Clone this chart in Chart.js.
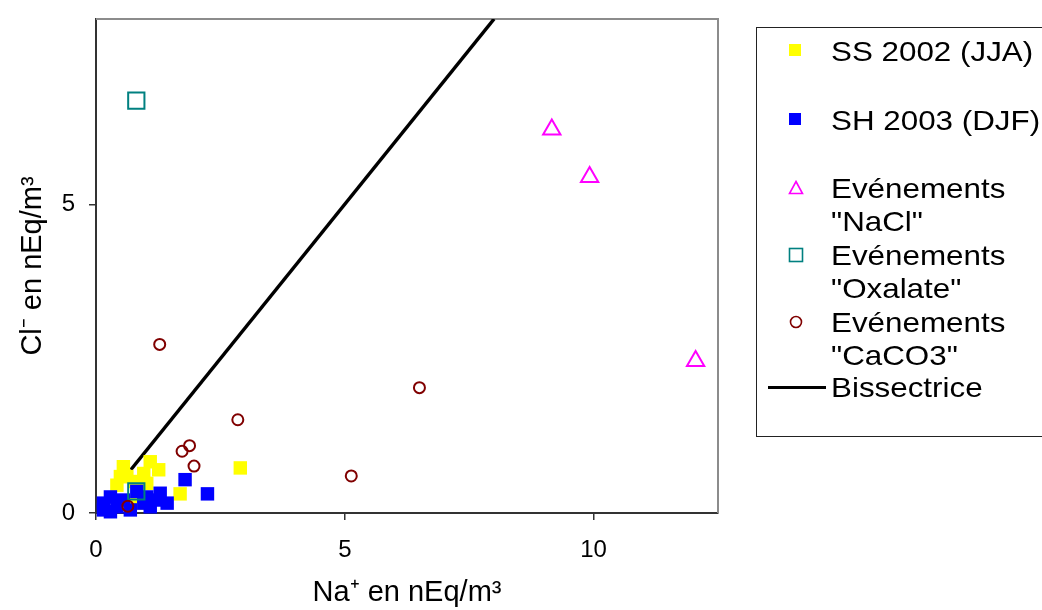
<!DOCTYPE html>
<html>
<head>
<meta charset="utf-8">
<script src="https://cdn.jsdelivr.net/npm/chart.js@4/dist/chart.umd.min.js"></script>
<style>
  body { margin: 0; background: #fff; }
  #wrap { position: relative; width: 1042px; height: 610px; overflow: hidden; font-family: "Liberation Sans", Arial, sans-serif; }
  #legend { position: absolute; left: 756px; top: 27px; width: 320px; height: 410px; border: 1.5px solid #222; box-sizing: border-box; }
  .item { position: absolute; left: 74px; font-size: 28px; line-height: 33px; color: #000; white-space: nowrap; transform: scaleX(1.12); transform-origin: left center; }
  .mark { position: absolute; }
</style>
</head>
<body>
<div id="wrap">
  <canvas id="chart" width="1042" height="610"></canvas>
  <div id="legend"></div>
</div>
<script>
// SS 2002 (JJA)
let ssX = [0.55, 0.49, 0.42, 0.62, 1.09, 1.26, 0.96, 1.02, 0.79, 2.90, 1.69, 0.82];
let ssY = [0.75, 0.59, 0.45, 0.59, 0.83, 0.70, 0.64, 0.48, 0.51, 0.73, 0.31, 0.16];
// SH 2003 (DJF)
let shX = [1.79, 2.24, 0.29, 0.15, 0.15, 0.42, 0.55, 0.82, 1.02, 1.23, 1.43, 1.09, 0.29, 0.69, 0.96, 1.29];
let shY = [0.54, 0.31, 0.26, 0.16, 0.05, 0.10, 0.21, 0.35, 0.26, 0.21, 0.16, 0.10, 0.02, 0.05, 0.16, 0.32];
// Evénements "NaCl"
let naclX = [9.16, 9.92, 12.05];
let naclY = [6.21, 5.44, 2.46];
// Evénements "Oxalate"
let oxaX = [0.81, 0.81];
let oxaY = [6.68, 0.35];
// Evénements "CaCO3"
let caX = [1.28, 2.85, 1.73, 1.88, 1.97, 0.64, 6.50, 5.13];
let caY = [2.73, 1.51, 1.00, 1.09, 0.76, 0.11, 2.03, 0.60];
// Bissectrice (y = x)
let bisX = [0.7, 8];
let bisY = [0.7, 8];

let xTicks = [0, 5, 10];
let yTicks = [0, 5];

function pts(xs, ys) {
	let out = [];
	for (let i = 0; i < xs.length; i++) out.push({x: xs[i], y: ys[i]});
	return out;
}

let frame = {
	id: "frame",
	beforeDatasetsDraw(chart) {
		let a = chart.chartArea;
		let ctx = chart.ctx;
		ctx.save();
		ctx.strokeStyle = "#8c8c8c";
		ctx.lineWidth = 2;
		ctx.beginPath();
		ctx.moveTo(a.left, a.top);
		ctx.lineTo(a.right, a.top);
		ctx.lineTo(a.right, a.bottom);
		ctx.stroke();
		ctx.restore();
	}
};

let data = {
	datasets: [
		{ label: "SS 2002 (JJA)", data: pts(ssX, ssY), pointStyle: "rect", pointRadius: 9.5,
		  backgroundColor: "#ffff00", borderColor: "#ffff00", borderWidth: 0, order: 5, clip: false },
		{ label: "SH 2003 (DJF)", data: pts(shX, shY), pointStyle: "rect", pointRadius: 9.5,
		  backgroundColor: "#0000ff", borderColor: "#0000ff", borderWidth: 0, order: 4, clip: false },
		{ label: 'Evénements "NaCl"', data: pts(naclX, naclY), pointStyle: "triangle", pointRadius: 10,
		  backgroundColor: "rgba(0,0,0,0)", borderColor: "#ff00ff", borderWidth: 2, order: 3, clip: false },
		{ label: 'Evénements "Oxalate"', data: pts(oxaX, oxaY), pointStyle: "rect", pointRadius: 11.5,
		  backgroundColor: "rgba(0,0,0,0)", borderColor: "#008080", borderWidth: 2, order: 2, clip: false },
		{ label: 'Evénements "CaCO3"', data: pts(caX, caY), pointStyle: "circle", pointRadius: 5.5,
		  backgroundColor: "rgba(0,0,0,0)", borderColor: "#800000", borderWidth: 2, order: 1, clip: false },
		{ type: "line", label: "Bissectrice", data: pts(bisX, bisY), showLine: true, pointRadius: 0,
		  borderColor: "#000", borderWidth: 3.5, fill: false, order: 6 }
	]
};

let options = {
	responsive: false,
	animation: false,
	events: [],
	layout: { padding: { top: 19, right: 324, left: 0, bottom: 0 } },
	plugins: { legend: { display: false }, tooltip: { enabled: false } },
	scales: {
		x: {
			type: "linear", min: 0, max: 12.5,
			afterFit: function (s) { s.height = 97; s.paddingLeft = 0; s.paddingRight = 0; },
			afterBuildTicks: function (s) { s.ticks = xTicks.map(v => ({value: v})); },
			ticks: { font: { size: 24, family: "Liberation Sans" }, color: "#000", padding: 16, maxRotation: 0 },
			grid: { drawOnChartArea: false, drawTicks: true, tickLength: 7, color: "#333", lineWidth: 1.5 },
			border: { display: true, color: "#333", width: 2 },
			title: { display: true, text: "Na\u207A en nEq/m\u00B3", color: "#000",
				font: { size: 29, family: "Liberation Sans" }, padding: { top: 0, bottom: 0 } }
		},
		y: {
			type: "linear", min: 0, max: 8,
			afterFit: function (s) { s.width = 96; s.paddingTop = 0; s.paddingBottom = 0; },
			afterBuildTicks: function (s) { s.ticks = yTicks.map(v => ({value: v})); },
			ticks: { font: { size: 24, family: "Liberation Sans" }, color: "#000", padding: 14 },
			grid: { drawOnChartArea: false, drawTicks: true, tickLength: 7, color: "#333", lineWidth: 1.5 },
			border: { display: true, color: "#333", width: 2 },
			title: { display: true, text: "Cl\u207B en nEq/m\u00B3", color: "#000",
				font: { size: 29, family: "Liberation Sans" }, padding: { top: 16, bottom: 0 } }
		}
	}
};

let ctx = document.getElementById("chart").getContext("2d");
let scatterChart = new Chart(ctx, { type: "scatter", data: data, options: options, plugins: [frame] });

// legend (html, one entry per dataset)
let legendRows = [
	{ lines: ["SS 2002 (JJA)"], y: 50, mark: '<rect x="1" y="1" width="12" height="12" fill="#ffff00"/>' },
	{ lines: ["SH 2003 (DJF)"], y: 119, mark: '<rect x="1" y="1" width="12" height="12" fill="#0000ff"/>' },
	{ lines: ["Evénements", '"NaCl"'], y: 187, mark: '<polygon points="8,1.5 14.5,13.5 1.5,13.5" fill="none" stroke="#ff00ff" stroke-width="1.6"/>' },
	{ lines: ["Evénements", '"Oxalate"'], y: 254, mark: '<rect x="1.5" y="1.5" width="13" height="13" fill="none" stroke="#008080" stroke-width="1.6"/>' },
	{ lines: ["Evénements", '"CaCO3"'], y: 321, mark: '<circle cx="8" cy="8" r="5.5" fill="none" stroke="#800000" stroke-width="1.6"/>' },
	{ lines: ["Bissectrice"], y: 386, mark: null }
];
let legend = document.getElementById("legend");
let html = "";
for (let r of legendRows) {
	let top = r.y - 27 - 16;
	html += '<div class="item" style="top:' + top + 'px">' + r.lines.join("<br>") + "</div>";
	if (r.mark) {
		html += '<svg class="mark" width="16" height="16" style="left:31px;top:' + (r.y - 27 - 8) + 'px">' + r.mark + "</svg>";
	} else {
		html += '<div class="mark" style="left:11px;width:58px;height:3px;background:#000;top:' + (r.y - 27 - 1.5) + 'px"></div>';
	}
}
legend.innerHTML = html;
</script>
</body>
</html>
